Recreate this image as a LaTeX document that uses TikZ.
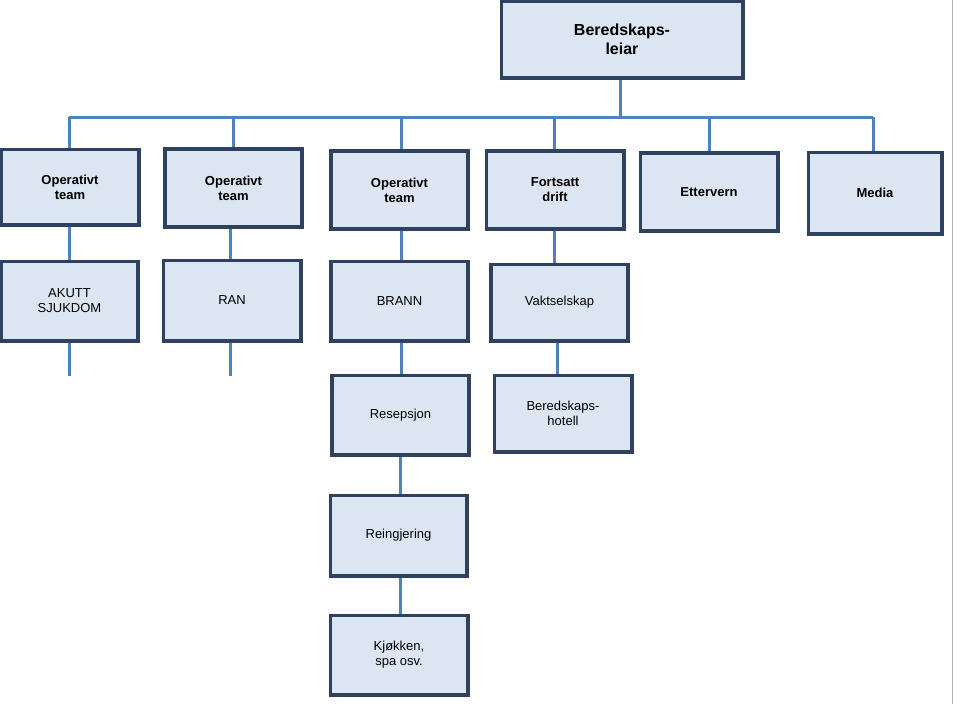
\documentclass[tikz,border=0pt]{standalone}
\usepackage{fontspec}
\setmainfont{Liberation Sans}
\begin{document}
\begin{tikzpicture}[x=1pt,y=-1pt,
  box/.style={draw=boxline,fill=boxfill,line width=2.5pt,align=center,font=\fontsize{13}{15}\selectfont,inner sep=0pt,minimum width=136pt,minimum height=77pt},
  hb/.style={box,font=\fontsize{13}{15}\selectfont\bfseries},
  conn/.style={draw=conncol,line width=3pt}]
\definecolor{boxfill}{HTML}{DCE6F2}
\definecolor{boxline}{HTML}{2E4260}
\definecolor{conncol}{HTML}{4F81BD}
\useasboundingbox (0,0) rectangle (955,704);
\draw[gray!60,line width=1pt] (952,0) -- (952,704);
% connectors first
\coordinate (busL) at (69,117);
\coordinate (busR) at (873,117);
\coordinate (s1) at (69,376);
\coordinate (s2) at (230,376);
\node[hb,minimum width=240pt,minimum height=75pt,font=\fontsize{16}{19}\selectfont\bfseries] (top) at (622,39.5) {Beredskaps-\\leiar};
\node[hb,minimum height=74pt] (o1) at (70,187) {Operativt\\team};
\node[hb] (o2) at (233.5,188) {Operativt\\team};
\node[hb] (o3) at (399.5,190) {Operativt\\team};
\node[hb] (o4) at (555,190) {Fortsatt\\drift};
\node[hb] (o5) at (709,192) {Ettervern};
\node[hb,minimum width=132pt,minimum height=80pt] (o6) at (875,193) {Media};
\node[box,minimum width=135pt,minimum height=78pt] (akutt) at (69.5,301) {AKUTT\\SJUKDOM};
\node[box,minimum height=79pt] (ran) at (232,300.5) {RAN};
\node[box,minimum height=78pt] (brann) at (399.5,301) {BRANN};
\node[box,minimum height=75pt] (vakt) at (559.5,302.5) {Vaktselskap};
\node[box,minimum height=78pt] (resep) at (400.5,415) {Resepsjon};
\node[box,minimum height=75pt] (hotell) at (563,413.5) {Beredskaps-\\hotell};
\node[box,minimum width=135pt,minimum height=79pt] (rein) at (398.5,535.5) {Reingjering};
\node[box,minimum height=78pt] (kjok) at (399,655) {Kjøkken,\\spa osv.};
\begin{scope}[on background layer/.try]
\end{scope}
\draw[conn] (busL) -- (busR);
\draw[conn] (top.south-|620,0) -- (620,117);
\foreach \n/\x in {o1/69,o2/233,o3/401,o4/554,o5/709,o6/873}
  \draw[conn] (\x,117) -- (\n.north-|\x,0);
\draw[conn] (o1.south-|69,0) -- (akutt.north-|69,0);
\draw[conn] (akutt.south-|69,0) -- (s1);
\draw[conn] (o2.south-|230,0) -- (ran.north-|230,0);
\draw[conn] (ran.south-|230,0) -- (s2);
\draw[conn] (o3.south-|401,0) -- (brann.north-|401,0);
\draw[conn] (brann.south-|401,0) -- (resep.north-|401,0);
\draw[conn] (resep.south-|400,0) -- (rein.north-|400,0);
\draw[conn] (rein.south-|400,0) -- (kjok.north-|400,0);
\draw[conn] (o4.south-|554,0) -- (vakt.north-|554,0);
\draw[conn] (vakt.south-|557,0) -- (hotell.north-|557,0);
% redraw boxes on top of connectors
\foreach \n in {top,o1,o2,o3,o4,o5,o6,akutt,ran,brann,vakt,resep,hotell,rein,kjok}
  \draw[boxline,line width=2.5pt] (\n.north west) rectangle (\n.south east);
\end{tikzpicture}
\end{document}
